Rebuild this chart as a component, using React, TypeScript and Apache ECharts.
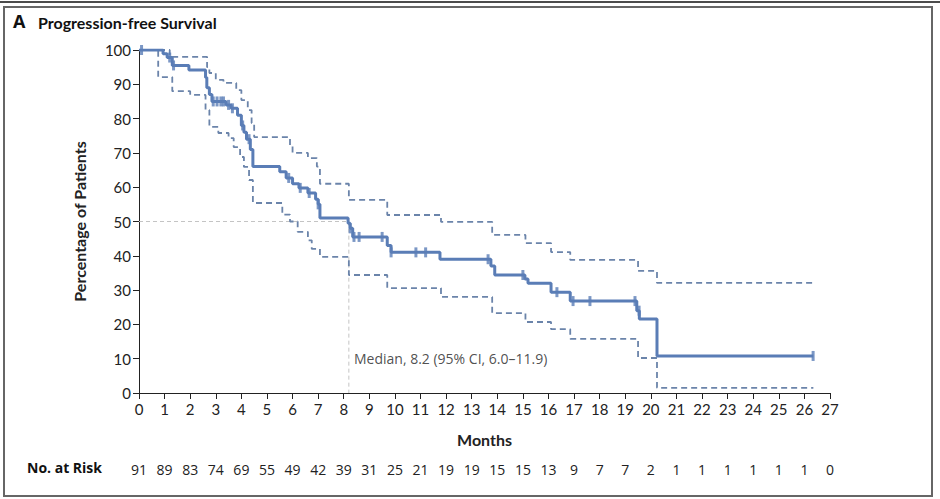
import React, { useEffect, useRef } from "react";
import * as echarts from "echarts";

// ---- data ----
const kmTime = [0, 0.94, 1.1, 1.3, 1.95, 2.6, 2.65, 2.75, 2.85, 3.4, 3.6, 3.85, 4.0, 4.1, 4.2, 4.35, 4.45, 5.5, 5.75, 6.0, 6.25, 6.6, 6.9, 7.0, 7.07, 8.17, 8.25, 8.35, 9.7, 9.85, 11.76, 13.75, 13.9, 15.08, 15.2, 16.1, 16.85, 19.45, 19.55, 20.24, 26.35];
const kmSurv = [100, 98.9, 97.8, 95.5, 94.2, 92, 89, 87, 85, 84, 83, 81, 78, 76, 74, 71, 66, 64.5, 62.7, 61, 59.8, 58.3, 56.5, 55, 51, 49.5, 48, 45.5, 43, 41, 39, 37, 34.4, 33.2, 32, 29.4, 26.8, 24, 21.6, 10.8, 10.8];

const upperTime = [0, 1.2, 2.66, 2.75, 3.0, 3.3, 3.8, 4.0, 4.25, 4.4, 4.5, 5.9, 6.0, 6.6, 6.95, 7.07, 8.2, 9.7, 11.8, 13.8, 15.1, 16.1, 16.85, 19.5, 20.24, 26.35];
const upperSurv = [100, 98, 95, 93.3, 91.3, 90.4, 88.3, 85.4, 82.5, 78.7, 74.6, 72, 70, 68.5, 66, 61, 56.3, 51.9, 49.9, 46.1, 43.7, 41.1, 38.8, 35.6, 32.1, 32.1];

const lowerTime = [0, 0.75, 1.3, 2.0, 2.6, 2.75, 3.1, 3.5, 3.7, 3.95, 4.1, 4.3, 4.45, 5.6, 5.9, 6.2, 6.6, 6.75, 7.07, 8.2, 9.7, 11.8, 13.8, 15.1, 16.1, 16.85, 19.5, 20.24, 26.35];
const lowerSurv = [100, 92.1, 88, 86.9, 82.5, 77.6, 75.8, 74.3, 71.7, 68.8, 65.9, 62.1, 55.4, 52, 50, 47, 44.5, 42, 39.7, 34.4, 30.6, 28, 23.3, 20.7, 18.6, 15.8, 10.2, 1.5, 1.5];

const censorTimes = [0.1, 1.2, 1.35, 2.9, 3.05, 3.2, 3.3, 3.5, 3.65, 4.05, 4.3, 5.85, 6.3, 6.65, 7.0, 8.25, 8.4, 8.6, 9.5, 9.85, 10.82, 11.2, 13.64, 15.0, 16.33, 16.96, 17.62, 19.38, 19.54, 26.34];

const monthTicks = Array.from({ length: 28 }, (_, i) => i);
const riskCounts = [91, 89, 83, 74, 69, 55, 49, 42, 39, 31, 25, 21, 19, 19, 15, 15, 13, 9, 7, 7, 2, 1, 1, 1, 1, 1, 1, 0];

const medianMonths = 8.2;
const medianLabel = "Median, 8.2 (95% CI, 6.0–11.9)";

function survAt(t: number): number {
  let v = kmSurv[0];
  for (let i = 0; i < kmTime.length; i++) {
    if (kmTime[i] <= t) v = kmSurv[i];
  }
  return v;
}

const zip = (a: number[], b: number[]) => a.map((x, i) => [x, b[i]]);

const narrow = "Lato, 'Noto Sans', sans-serif";

export default function App() {
  const ref = useRef<HTMLDivElement>(null);
  useEffect(() => {
    if (!ref.current) return;
    const chart = echarts.init(ref.current, undefined, { renderer: "svg" });
    const mainColor = "#5a7db6";
    const ciColor = "#6b84aa";
    chart.setOption({
      animation: false,
      backgroundColor: "#ffffff",
      grid: { left: 139, right: 110, top: 50, bottom: 106, containLabel: false },
      xAxis: [
        {
          type: "value",
          min: 0,
          max: 27,
          interval: 1,
          name: "Months",
          nameLocation: "middle",
          nameGap: 38,
          nameTextStyle: { fontFamily: narrow, fontWeight: "bold", fontSize: 16, color: "#222" },
          axisLine: { show: true, lineStyle: { color: "#222", width: 1 } },
          axisTick: { show: true, length: 6, lineStyle: { color: "#222" } },
          axisLabel: { fontFamily: narrow, fontSize: 15, color: "#222", margin: 8 },
          splitLine: { show: false },
        },
        {
          type: "value",
          min: 0,
          max: 27,
          interval: 1,
          position: "bottom",
          offset: 61,
          axisLine: { show: false },
          axisTick: { show: false },
          splitLine: { show: false },
          axisLabel: {
            fontFamily: "'Open Sans', sans-serif",
            fontSize: 14,
            color: "#222",
            formatter: (v: number) => {
              const i = monthTicks.indexOf(Math.round(v));
              return i >= 0 ? String(riskCounts[i]) : "";
            },
          },
        },
      ],
      yAxis: {
        type: "value",
        min: 0,
        max: 100,
        interval: 10,
        name: "Percentage of Patients",
        nameLocation: "middle",
        nameGap: 52,
        nameRotate: 90,
        nameTextStyle: { fontFamily: narrow, fontWeight: "bold", fontSize: 16, color: "#222" },
        axisLine: { show: true, lineStyle: { color: "#222", width: 1 } },
        axisTick: { show: true, length: 6, lineStyle: { color: "#222" } },
        axisLabel: { fontFamily: narrow, fontSize: 15, color: "#222", margin: 8 },
        splitLine: { show: false },
      },
      series: [
        {
          type: "line",
          data: [[0, 50], [medianMonths, 50], [medianMonths, 0]],
          symbol: "none",
          lineStyle: { color: "#c4c4c4", width: 1, type: [4, 3] },
          z: 1,
          silent: true,
        },
        {
          type: "line",
          step: "end",
          data: zip(upperTime, upperSurv),
          symbol: "none",
          lineStyle: { color: ciColor, width: 1.8, type: [6, 4] },
          z: 2,
        },
        {
          type: "line",
          step: "end",
          data: zip(lowerTime, lowerSurv),
          symbol: "none",
          lineStyle: { color: ciColor, width: 1.8, type: [6, 4] },
          z: 2,
        },
        {
          type: "line",
          step: "end",
          data: zip(kmTime, kmSurv),
          symbol: "none",
          lineStyle: { color: mainColor, width: 3 },
          z: 3,
        },
        {
          type: "scatter",
          data: censorTimes.map((t) => [t, survAt(t)]),
          symbol: "rect",
          symbolSize: [3, 10],
          itemStyle: { color: mainColor },
          z: 4,
        },
        {
          type: "scatter",
          data: [[medianMonths + 0.2, 10.2]],
          symbolSize: 0,
          silent: true,
          label: {
            show: true,
            position: "right",
            distance: 0,
            formatter: medianLabel,
            fontFamily: "'Open Sans', sans-serif",
            fontSize: 14,
            color: "#222",
          },
          z: 5,
        },
      ],
      graphic: [
        { type: "line", shape: { x1: 0, y1: 2, x2: 940, y2: 2 }, style: { stroke: "#111", lineWidth: 1.5 } },
        { type: "rect", shape: { x: 4, y: 7, width: 928, height: 489 }, style: { fill: "none", stroke: "#666", lineWidth: 2 } },
        {
          type: "text",
          left: 13,
          top: 12,
          style: { text: "A", fontFamily: "'Open Sans', sans-serif", fontWeight: "bold", fontSize: 18, fill: "#111" },
        },
        {
          type: "text",
          left: 38,
          top: 14,
          style: { text: "Progression-free Survival", fontFamily: narrow, fontWeight: "bold", fontSize: 16, fill: "#111" },
        },
        {
          type: "text",
          left: 27,
          top: 460,
          style: { text: "No. at Risk", fontFamily: "'Open Sans', sans-serif", fontWeight: "bold", fontSize: 14, fill: "#111" },
        },
      ],
    });
    return () => chart.dispose();
  }, []);
  return <div ref={ref} style={{ position: "fixed", left: 0, top: 0, width: 940, height: 499 }} />;
}
